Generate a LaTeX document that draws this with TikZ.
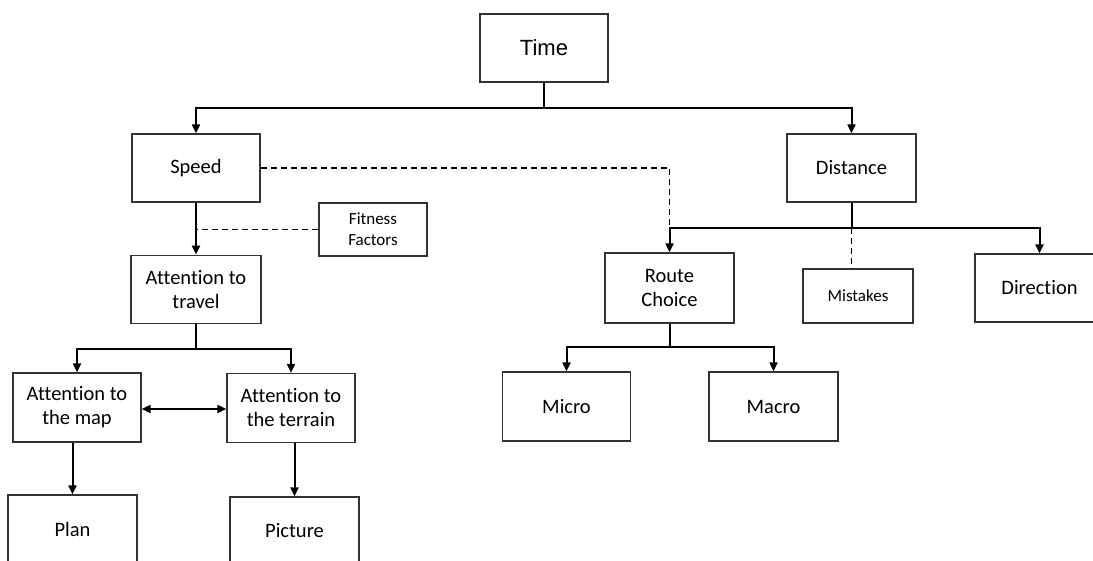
\documentclass[tikz,border=0pt]{standalone}
\usepackage{fontspec}
\setmainfont{Carlito}[Ligatures=NoCommon]
\newfontfamily\arialfont{Liberation Sans}
\usetikzlibrary{arrows.meta,positioning}

\tikzset{
	box/.style={draw=black!80, line width=1.3pt, minimum width=128pt, minimum height=68pt,
		align=center, inner sep=2pt, font=\fontsize{20.5}{24}\selectfont},
	smallbox/.style={box, minimum width=108pt, minimum height=53pt, font=\fontsize{17}{21}\selectfont},
	link/.style={line width=2pt},
	arrow/.style={link, -{Triangle[length=9pt,width=8pt]}},
	dashlink/.style={line width=1.2pt, dash pattern=on 6pt off 4pt}
}

\begin{document}
\begin{tikzpicture}[x=1pt, y=-1pt]
		\useasboundingbox (0,0) rectangle (1093,560);
		\clip (0,0) rectangle (1093,560);
		% top levels
		\node [box, font=\arialfont\fontsize{22}{26}\selectfont] (time) at (544,48) {Time};
		\node [box] (speed) at (196,168) {Speed};
		\node [box, minimum width=129pt] (distance) at (851.5,168) {Distance};
		\node [box, minimum width=130pt, below=52pt of speed] (travel) {Attention to\\travel};
		\node [smallbox] (fitness) at (373,229.5) {Fitness\\Factors};
		% distance branch
		\node [box, minimum width=129pt, minimum height=70pt] (route) at (669.5,288) {Route\\Choice};
		\node [smallbox, minimum width=110pt, minimum height=54pt] (mistakes) at (858,296) {Mistakes};
		\node [box, minimum width=129pt] (direction) at (1039.5,288) {Direction};
		\node [box, minimum height=69pt] (micro) at (566.5,406.5) {Micro};
		\node [box, minimum width=129pt, minimum height=69pt] (macro) at (773.5,406.5) {Macro};
		% speed branch
		\node [box, minimum height=69pt] (map) at (77,407.5) {Attention to\\the map};
		\node [box, minimum height=69pt] (terrain) at (291,408) {Attention to\\the terrain};
		\node [box, minimum width=129pt] (plan) at (72.5,529) {Plan};
		\node [box, minimum width=129pt] (picture) at (294.5,531) {Picture};
		
		\coordinate (tj) at (544,108);
		\coordinate (dj) at (851.5,228);
		\coordinate (rj) at (669.5,228);
		\coordinate (aj) at (196,349);
		\coordinate (cj) at (669.5,347);
		
		\draw [link] (time.south) -- (tj);
		\draw [arrow] (tj) -| (speed.north);
		\draw [arrow] (tj) -| (distance.north);
		\draw [arrow] (speed) -- (travel);
		\draw [dashlink] (fitness.west) -- (fitness.west -| speed.south);
		\draw [dashlink] (speed.east) -| (rj);
		\draw [link] (distance.south) -- (dj);
		\draw [arrow] (dj) -| (route.north);
		\draw [arrow] (dj) -| (direction.north);
		\draw [dashlink] (dj) -- (dj |- mistakes.north);
		\draw [link] (route.south) -- (cj);
		\draw [arrow] (cj) -| (micro.north);
		\draw [arrow] (cj) -| (macro.north);
		\draw [link] (travel.south) -- (aj);
		\draw [arrow] (aj) -| (map.north);
		\draw [arrow] (aj) -| (terrain.north);
		\draw [link, {Triangle[length=9pt,width=8pt]}-{Triangle[length=9pt,width=8pt]}] (map.east |- 0,409) -- (terrain.west |- 0,409);
		\draw [arrow] (plan.north |- map.south) -- (plan.north);
		\draw [arrow] (picture.north |- terrain.south) -- (picture.north);
	\end{tikzpicture}
\end{document}
